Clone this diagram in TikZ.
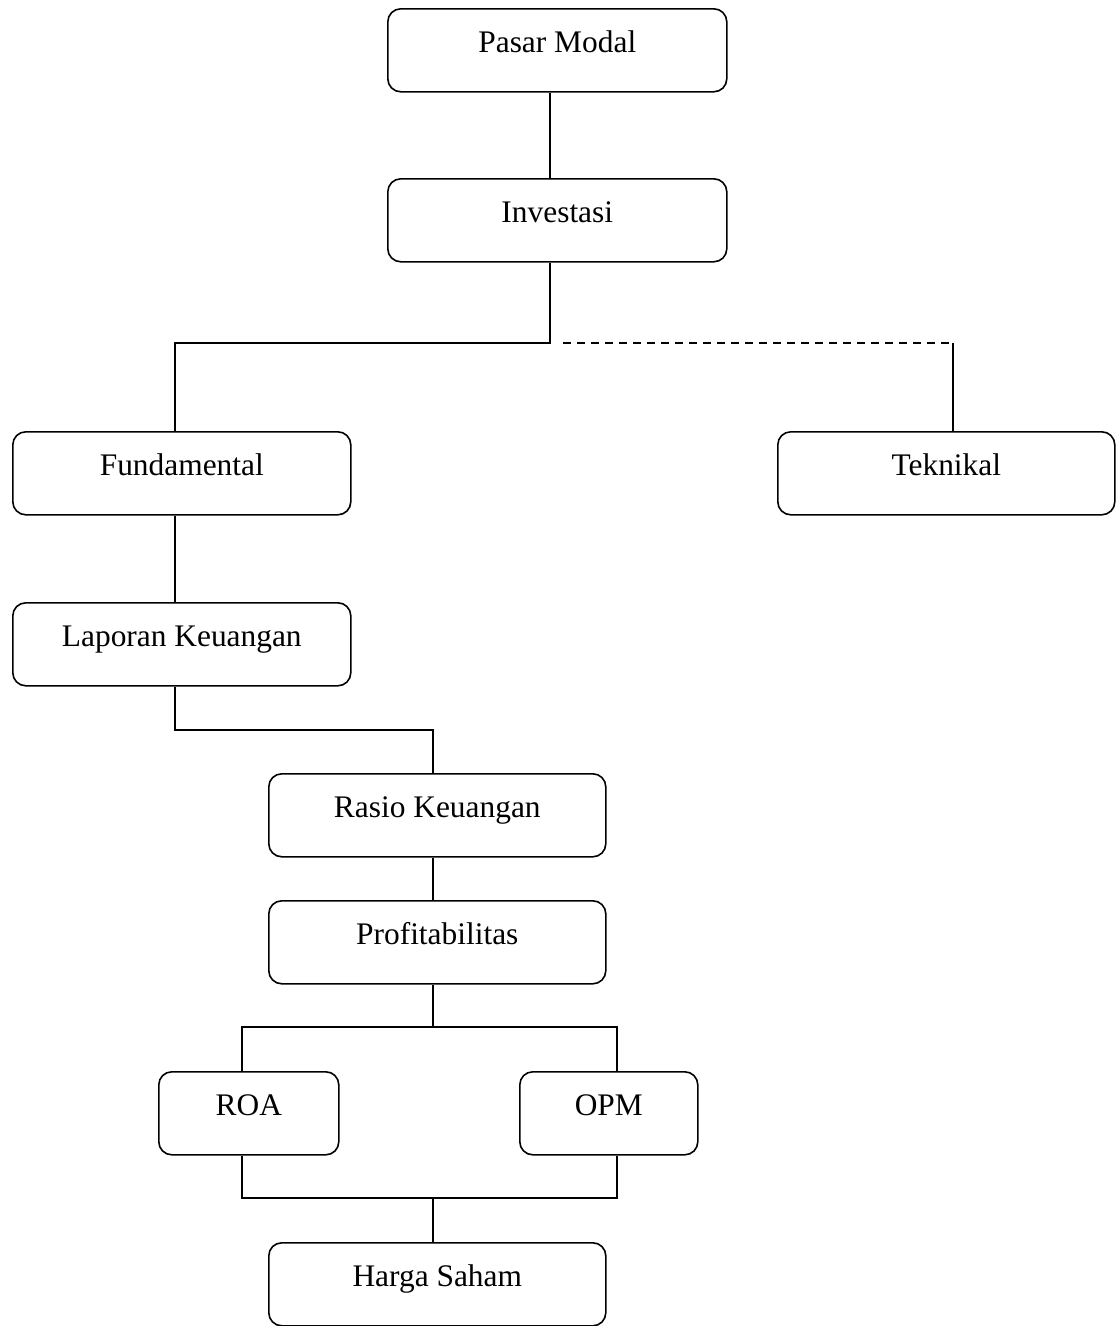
\documentclass[tikz,border=0pt]{standalone}
\usepackage{fontspec}
\setmainfont{Liberation Serif}
\begin{document}
\begin{tikzpicture}[x=1pt,y=-1pt,
  box/.style={draw, line width=1.6pt, rounded corners=13pt, anchor=north west,
    inner sep=0pt, text height=44pt, text depth=39pt,
    font=\fontsize{31.4}{36}\selectfont},
  conn/.style={line width=1.6pt},
  dconn/.style={line width=1.6pt, dash pattern=on 8pt off 6pt}]
\useasboundingbox (0,0) rectangle (1119,1326);
\node[box, minimum width=339pt] (pm) at (387,8) {Pasar Modal};
\node[box, minimum width=339pt] (inv) at (387,178) {Investasi};
\node[box, minimum width=338pt] (fund) at (12,431) {Fundamental};
\node[box, minimum width=337pt] (tek) at (777,431) {Teknikal};
\node[box, minimum width=338pt] (lap) at (12,602) {Laporan Keuangan};
\node[box, minimum width=337pt] (ras) at (268,773) {Rasio Keuangan};
\node[box, minimum width=337pt] (prof) at (268,900) {Profitabilitas};
\node[box, minimum width=180pt] (roa) at (158,1071) {ROA};
\node[box, minimum width=178pt] (opm) at (519,1071) {OPM};
\node[box, minimum width=337pt] (hs) at (268,1242) {Harga Saham};
\coordinate (j1) at (550,343);
\coordinate (d1) at (563,343);
\coordinate (d2) at (953,343);
\coordinate (j2) at (175,730);
\coordinate (j3) at (433,1027);
\coordinate (j4) at (433,1198);
\coordinate (xr) at (242,0);
\coordinate (xo) at (617,0);
% connectors
\draw[conn] (j1 |- pm.south) -- (j1 |- inv.north);
\draw[conn] (j1 |- inv.south) -- (j1) -| (j2 |- fund.north);
\draw[dconn] (d1) -- (d2);
\draw[conn] (d2) -- (d2 |- tek.north);
\draw[conn] (j2 |- fund.south) -- (j2 |- lap.north);
\draw[conn] (j2 |- lap.south) -- (j2) -| (j3 |- ras.north);
\draw[conn] (j3 |- ras.south) -- (j3 |- prof.north);
\draw[conn] (j3 |- prof.south) -- (j3);
\draw[conn] (xr |- roa.north) |- (j3) -| (xo |- opm.north);
\draw[conn] (xr |- roa.south) |- (j4) -| (xo |- opm.south);
\draw[conn] (j4) -- (j4 |- hs.north);
\end{tikzpicture}
\end{document}
